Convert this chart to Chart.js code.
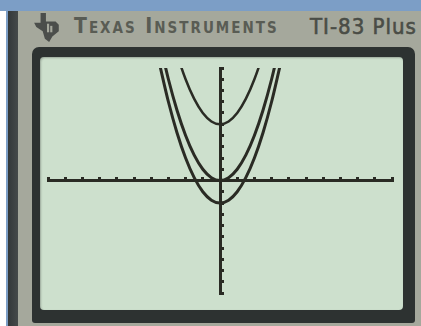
<!DOCTYPE html>
<html>
<head>
<meta charset="utf-8">
<script src="https://cdn.jsdelivr.net/npm/chart.js@4.4.1/dist/chart.umd.min.js"></script>
<style>
  html, body { margin: 0; padding: 0; }
  body { width: 421px; height: 326px; overflow: hidden; background: #ffffff; position: relative; }
  .abs { position: absolute; }
  #topband { left: 0; top: 0; width: 421px; height: 11px; background: #7c9ec6; }
  #blueline { left: 6px; top: 11px; width: 2px; height: 315px; background: #7c9ec6; }
  #body { left: 8px; top: 11px; width: 413px; height: 315px; background: #a5a89c; }
  #edge { left: 8px; top: 11px; width: 10px; height: 315px; background: linear-gradient(90deg, #33383a, #454a4a); }
  #bezel { left: 32px; top: 47px; width: 383px; height: 276px; background: #2d3231; border-radius: 7px 7px 3px 3px; }
  #screen { left: 40px; top: 57px; width: 363px; height: 253px; background: #cde0cd; border-radius: 4px; box-shadow: inset 1px 1px 2px rgba(0,0,0,0.25); }
  #brand { left: 74px; top: 14px; font-family: "DejaVu Sans Condensed", "DejaVu Sans", sans-serif; font-size: 21px; font-weight: bold; font-variant: small-caps; letter-spacing: 2px; color: #595c54; white-space: nowrap; }
  #model { left: 310px; top: 14px; font-family: "DejaVu Sans Condensed", "DejaVu Sans", sans-serif; font-size: 22px; letter-spacing: 1px; color: #4a4d46; white-space: nowrap; -webkit-text-stroke: 0.6px #4a4d46; }
  #logo { left: 34px; top: 13px; }
  #plot { left: 40px; top: 57px; width: 363px; height: 253px; }
</style>
</head>
<body>
<div class="abs" id="topband"></div>
<div class="abs" id="blueline"></div>
<div class="abs" id="body"></div>
<div class="abs" id="edge"></div>
<svg class="abs" id="logo" width="26" height="30" viewBox="0 0 24 28">
  <polygon points="6,0 11,0 11,8 20,8 23,11 23,17 17,22 14,27 10,24 8,17 2,13 0,9 6,9" fill="#4b4e4b"/>
  <rect x="12" y="10" width="2" height="8" fill="#a5a89c"/>
  <rect x="15" y="12" width="2" height="6" fill="#a5a89c"/>
</svg>
<div class="abs" id="brand">Texas Instruments</div>
<div class="abs" id="model">TI-83 Plus</div>
<div class="abs" id="bezel"></div>
<div class="abs" id="screen"></div>
<div class="abs" id="plot"><canvas id="graphChart"></canvas></div>

<script>
// values (ZStandard window, -10..10 on both axes)
const xValues = [-3.5, -3, -2.5, -2, -1.5, -1, -0.5, 0, 0.5, 1, 1.5, 2, 2.5, 3, 3.5];
const upperCurve = [17.25, 14, 11.25, 9, 7.25, 6, 5.25, 5, 5.25, 6, 7.25, 9, 11.25, 14, 17.25];
const middleCurve = [12.25, 9, 6.25, 4, 2.25, 1, 0.25, 0, 0.25, 1, 2.25, 4, 6.25, 9, 12.25];
const lowerCurve = [10.25, 7, 4.25, 2, 0.25, -1, -1.75, -2, -1.75, -1, 0.25, 2, 4.25, 7, 10.25];
const windowMin = -10;
const windowMax = 10;
const tickStep = 1;

const ink = '#2a2b24';

const toPoints = (ys) => xValues.map((x, i) => ({ x: x, y: ys[i] }));

const makeSet = (label, ys, width) => ({
    label: label,
    data: toPoints(ys),
    showLine: true,
    borderColor: ink,
    borderWidth: width,
    pointRadius: 0,
    cubicInterpolationMode: 'monotone',
    fill: false
});

// ticks point up on the x axis and right on the y axis, like the TI screen
const axisOpts = (posKey) => ({
    type: 'linear',
    min: windowMin,
    max: windowMax,
    position: posKey,
    ticks: { display: false, stepSize: tickStep, autoSkip: false },
    grid: {
        drawOnChartArea: false,
        drawTicks: true,
        tickLength: -5,
        color: ink,
        lineWidth: 3
    },
    border: { display: true, color: ink, width: 3 }
});

new Chart(document.getElementById('graphChart'), {
    type: 'scatter',
    data: {
        datasets: [
            makeSet('Y1', upperCurve, 2.5),
            makeSet('Y2', middleCurve, 3),
            makeSet('Y3', lowerCurve, 3)
        ]
    },
    options: {
        responsive: true,
        maintainAspectRatio: false,
        animation: false,
        layout: { padding: { left: 8, right: 11, top: 11, bottom: 17 } },
        plugins: { legend: { display: false }, tooltip: { enabled: false } },
        scales: {
            x: axisOpts({ y: 0 }),
            y: axisOpts({ x: 0 })
        }
    }
});
</script>
</body>
</html>
